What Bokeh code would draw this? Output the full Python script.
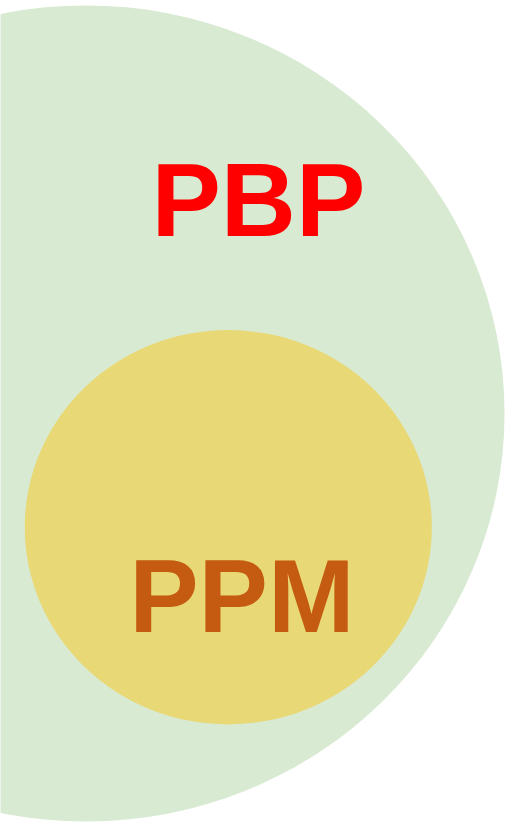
from bokeh.plotting import figure
from bokeh.models import Range1d, ColumnDataSource
from bokeh.core.properties import value
from bokeh.embed import file_html
from bokeh.resources import INLINE

# Sets (Euler diagram): name, centre, extent
set_names = ["PBP", "PPM"]
set_cx = [88, 235]
set_cy = [421, 537]
set_w = [864, 420]
set_h = [832, 402]
set_colors = ["#d9ead3", "#e8d876"]
label_x = [266, 249]
label_y = [203, 607]
label_colors = ["#ff0000", "#c55a11"]

W, H = 506, 822
p = figure(width=W, height=H, output_backend="svg", toolbar_location=None,
           x_range=Range1d(0, 522), y_range=Range1d(838, 0),
           min_border=0, outline_line_color=None)
p.axis.visible = False
p.grid.visible = False
p.background_fill_color = "white"
p.border_fill_color = "white"

src = ColumnDataSource(dict(x=set_cx, y=set_cy, w=set_w, h=set_h, c=set_colors))
p.ellipse(x="x", y="y", width="w", height="h", fill_color="c",
          line_color=None, source=src)

tsrc = ColumnDataSource(dict(x=label_x, y=label_y, t=set_names, c=label_colors))
p.text(x="x", y="y", text="t", text_color="c", source=tsrc,
       text_font=value("Liberation Sans"), text_font_style="bold",
       text_font_size="104px", text_align="center", text_baseline="middle")

open("out.html", "w").write(file_html(p, INLINE))
